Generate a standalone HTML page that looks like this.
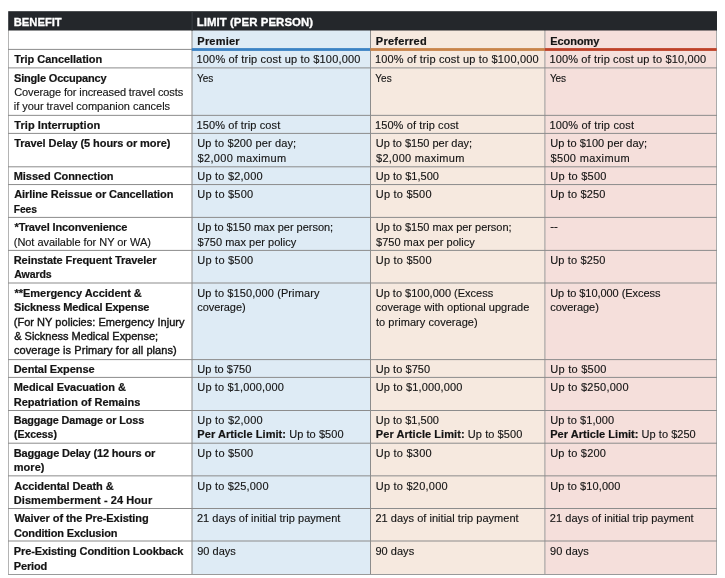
<!DOCTYPE html><html><head><meta charset="utf-8"><title>Benefits</title><style>
html,body{margin:0;padding:0;background:#fff}
body{width:725px;height:578px;position:relative;overflow:hidden;font-family:"Liberation Sans",sans-serif;color:#141414;font-size:11.0px;line-height:14.0px}
div{position:absolute;box-sizing:border-box;transform-origin:0 0}
.l{white-space:nowrap;height:14.0px;-webkit-text-stroke:0.14px #141414}
b{font-weight:bold;-webkit-text-stroke:0.2px #141414}
.m{-webkit-text-stroke:0.38px #141414}
.ht{color:#fff;font-weight:bold;font-size:11.4px;line-height:16px;height:16px;white-space:nowrap;-webkit-text-stroke:0.3px #fff}

</style></head><body>
<svg width="725" height="578" viewBox="0 0 725 578" style="position:absolute;left:0;top:0">
<rect x="192.0" y="30" width="178.5" height="545.0" fill="#deebf5"/>
<rect x="370.5" y="30" width="174.39999999999998" height="545.0" fill="#f6e9df"/>
<rect x="544.9" y="30" width="171.60000000000002" height="545.0" fill="#f5dfdb"/>
<rect x="8.0" y="30" width="1" height="545.0" fill="#b4b4b4"/>
<rect x="191.5" y="30" width="1" height="545.0" fill="#8e8e8e"/>
<rect x="370.0" y="30" width="1" height="545.0" fill="#8c8c8c"/>
<rect x="544.4" y="30" width="1" height="545.0" fill="#989898"/>
<rect x="716.0" y="30" width="1" height="545.0" fill="#aaa"/>
<rect x="8" y="67.4" width="709" height="1" fill="#8c8c8c"/>
<rect x="8" y="114.85" width="709" height="1" fill="#8c8c8c"/>
<rect x="8" y="132.9" width="709" height="1" fill="#8c8c8c"/>
<rect x="8" y="166.3" width="709" height="1" fill="#8c8c8c"/>
<rect x="8" y="184.05" width="709" height="1" fill="#8c8c8c"/>
<rect x="8" y="216.9" width="709" height="1" fill="#8c8c8c"/>
<rect x="8" y="249.9" width="709" height="1" fill="#8c8c8c"/>
<rect x="8" y="282.5" width="709" height="1" fill="#8c8c8c"/>
<rect x="8" y="359.1" width="709" height="1" fill="#8c8c8c"/>
<rect x="8" y="376.9" width="709" height="1" fill="#8c8c8c"/>
<rect x="8" y="410.0" width="709" height="1" fill="#8c8c8c"/>
<rect x="8" y="442.7" width="709" height="1" fill="#8c8c8c"/>
<rect x="8" y="475.35" width="709" height="1" fill="#8c8c8c"/>
<rect x="8" y="508.0" width="709" height="1" fill="#8c8c8c"/>
<rect x="8" y="540.5" width="709" height="1" fill="#8c8c8c"/>
<rect x="8" y="574.0" width="709" height="1" fill="#9a9a9a"/>
<rect x="8" y="48.9" width="184" height="1" fill="#8c8c8c"/>
<rect x="191.8" y="48.1" width="178.5" height="2.8" fill="#3b82c4"/>
<rect x="370.3" y="48.1" width="174.39999999999998" height="2.8" fill="#c8834a"/>
<rect x="544.6999999999999" y="48.1" width="172.00000000000003" height="2.8" fill="#be4127"/>
<rect x="8.2" y="11.2" width="708.8" height="19.3" fill="#24272b"/>
<rect x="191.6" y="11.6" width="1" height="18.9" fill="#3b3f44"/>
</svg>
<div style="left:0;top:0;width:725px;height:578px;will-change:transform">
<div class="ht" style="left:0;top:14px;letter-spacing:0px;transform:translateX(13.65px) scaleX(0.9867)">BENEFIT</div>
<div class="ht" style="left:0;top:14px;letter-spacing:0.074px;transform:translateX(196.65px) scaleX(1)">LIMIT (PER PERSON)</div>
</div>
<div style="left:0;top:0;width:725px;height:578px;will-change:transform">
<div class="l" style="left:197.35px;top:34px;letter-spacing:0.201px"><b>Premier</b></div>
<div class="l" style="left:375.80px;top:34px;letter-spacing:0.247px"><b>Preferred</b></div>
<div class="l" style="left:550.25px;top:34px;letter-spacing:-0.050px"><b>Economy</b></div>
<div class="l" style="left:14.25px;top:52px;letter-spacing:-0.045px"><b>Trip Cancellation</b></div>
<div class="l" style="left:196.50px;top:52px;letter-spacing:0.177px">100% of trip cost up to $100,000</div>
<div class="l" style="left:374.95px;top:52px;letter-spacing:0.170px">100% of trip cost up to $100,000</div>
<div class="l" style="left:549.40px;top:52px;letter-spacing:0.151px">100% of trip cost up to $10,000</div>
<div class="l" style="left:14.00px;top:71px;letter-spacing:-0.184px"><b>Single Occupancy</b></div>
<div class="l" style="left:14.25px;top:85px;letter-spacing:-0.122px">Coverage for increased travel costs</div>
<div class="l" style="left:13.75px;top:99px;letter-spacing:-0.026px">if your travel companion cancels</div>
<div class="l" style="left:197px;top:71px;letter-spacing:-0.130px;transform:translateX(0.05px) scaleX(0.9125)">Yes</div>
<div class="l" style="left:375px;top:71px;letter-spacing:0.062px;transform:translateX(0.25px) scaleX(0.9065)">Yes</div>
<div class="l" style="left:549px;top:71px;letter-spacing:-0.126px;transform:translateX(0.95px) scaleX(0.9129)">Yes</div>
<div class="l" style="left:14.25px;top:118px;letter-spacing:0.062px"><b>Trip Interruption</b></div>
<div class="l" style="left:196.50px;top:118px;letter-spacing:0.112px">150% of trip cost</div>
<div class="l" style="left:374.95px;top:118px;letter-spacing:0.110px">150% of trip cost</div>
<div class="l" style="left:549.40px;top:118px;letter-spacing:0.172px">100% of trip cost</div>
<div class="l" style="left:14.25px;top:136px;letter-spacing:-0.077px"><b>Travel Delay (5 hours or more)</b></div>
<div class="l" style="left:197.30px;top:136px;letter-spacing:0.124px">Up to $200 per day;</div>
<div class="l" style="left:197.55px;top:151px;letter-spacing:0.322px">$2,000 maximum</div>
<div class="l" style="left:375.75px;top:136px;letter-spacing:-0.017px">Up to $150 per day;</div>
<div class="l" style="left:376.00px;top:151px;letter-spacing:0.304px">$2,000 maximum</div>
<div class="l" style="left:550.20px;top:136px;letter-spacing:0.018px">Up to $100 per day;</div>
<div class="l" style="left:550.45px;top:151px;letter-spacing:0.357px">$500 maximum</div>
<div class="l" style="left:13.75px;top:169px;letter-spacing:-0.063px"><b>Missed Connection</b></div>
<div class="l" style="left:197.30px;top:169px;letter-spacing:0.211px">Up to $2,000</div>
<div class="l" style="left:375.75px;top:169px;letter-spacing:0.022px">Up to $1,500</div>
<div class="l" style="left:550.20px;top:169px;letter-spacing:0.276px">Up to $500</div>
<div class="l" style="left:14.25px;top:187px;letter-spacing:-0.095px"><b>Airline Reissue or Cancellation</b></div>
<div class="l" style="left:13px;top:202px;letter-spacing:-0.095px;transform:translateX(0.75px) scaleX(0.9378)"><b>Fees</b></div>
<div class="l" style="left:197.30px;top:187px;letter-spacing:0.228px">Up to $500</div>
<div class="l" style="left:375.75px;top:187px;letter-spacing:0.219px">Up to $500</div>
<div class="l" style="left:550.20px;top:187px;letter-spacing:0.165px">Up to $250</div>
<div class="l" style="left:14.50px;top:220px;letter-spacing:-0.133px"><b>*Travel Inconvenience</b></div>
<div class="l" style="left:13.75px;top:235px;letter-spacing:-0.038px">(Not available for NY or WA)</div>
<div class="l" style="left:197.30px;top:220px;letter-spacing:-0.020px">Up to $150 max per person;</div>
<div class="l" style="left:197.55px;top:235px;letter-spacing:0.012px">$750 max per policy</div>
<div class="l" style="left:375.75px;top:220px;letter-spacing:-0.020px">Up to $150 max per person;</div>
<div class="l" style="left:376.00px;top:235px;letter-spacing:0.014px">$750 max per policy</div>
<div class="l" style="left:550px;top:219px;letter-spacing:0.066px;transform:translateX(0.20px) scaleX(1.0319)">--</div>
<div class="l" style="left:13.75px;top:253px;letter-spacing:-0.078px"><b>Reinstate Frequent Traveler</b></div>
<div class="l" style="left:14px;top:267px;letter-spacing:-0.110px;transform:translateX(0.25px) scaleX(0.9610)"><b>Awards</b></div>
<div class="l" style="left:197.30px;top:253px;letter-spacing:0.228px">Up to $500</div>
<div class="l" style="left:375.75px;top:253px;letter-spacing:0.219px">Up to $500</div>
<div class="l" style="left:550.20px;top:253px;letter-spacing:0.165px">Up to $250</div>
<div class="l" style="left:14.50px;top:286px;letter-spacing:-0.032px"><b>**Emergency Accident &amp;</b></div>
<div class="l" style="left:14.00px;top:300px;letter-spacing:-0.171px"><b>Sickness Medical Expense</b></div>
<div class="l" style="left:13.75px;top:315px;letter-spacing:0.031px"><span class="m">(For NY policies: Emergency Injury</span></div>
<div class="l" style="left:14.25px;top:329px;letter-spacing:-0.019px"><span class="m">&amp; Sickness Medical Expense;</span></div>
<div class="l" style="left:14.00px;top:343px;letter-spacing:0.078px"><span class="m">coverage is Primary for all plans)</span></div>
<div class="l" style="left:197.30px;top:286px;letter-spacing:0.104px">Up to $150,000 (Primary</div>
<div class="l" style="left:197.30px;top:300px;letter-spacing:-0.077px">coverage)</div>
<div class="l" style="left:375.75px;top:286px;letter-spacing:0.002px">Up to $100,000 (Excess</div>
<div class="l" style="left:375.75px;top:300px;letter-spacing:0.025px">coverage with optional upgrade</div>
<div class="l" style="left:376.00px;top:315px;letter-spacing:0.043px">to primary coverage)</div>
<div class="l" style="left:550.20px;top:286px;letter-spacing:-0.048px">Up to $10,000 (Excess</div>
<div class="l" style="left:550.20px;top:300px;letter-spacing:-0.038px">coverage)</div>
<div class="l" style="left:13.75px;top:362px;letter-spacing:-0.084px"><b>Dental Expense</b></div>
<div class="l" style="left:197.30px;top:362px;letter-spacing:0.027px">Up to $750</div>
<div class="l" style="left:375.75px;top:362px;letter-spacing:0.061px">Up to $750</div>
<div class="l" style="left:550.20px;top:362px;letter-spacing:0.276px">Up to $500</div>
<div class="l" style="left:13.75px;top:380px;letter-spacing:-0.052px"><b>Medical Evacuation &amp;</b></div>
<div class="l" style="left:13.75px;top:395px;letter-spacing:0.001px"><b>Repatriation of Remains</b></div>
<div class="l" style="left:197.30px;top:380px;letter-spacing:0.150px">Up to $1,000,000</div>
<div class="l" style="left:375.75px;top:380px;letter-spacing:0.152px">Up to $1,000,000</div>
<div class="l" style="left:550.20px;top:380px;letter-spacing:0.244px">Up to $250,000</div>
<div class="l" style="left:13px;top:413px;letter-spacing:-0.126px;transform:translateX(0.75px) scaleX(0.9851)"><b>Baggage Damage or Loss</b></div>
<div class="l" style="left:14px;top:427px;letter-spacing:-0.108px;transform:translateX(0.00px) scaleX(0.9650)"><b>(Excess)</b></div>
<div class="l" style="left:197.30px;top:413px;letter-spacing:0.211px">Up to $2,000</div>
<div class="l" style="left:197.35px;top:427px;letter-spacing:0.062px"><b>Per Article Limit:</b> Up to $500</div>
<div class="l" style="left:375.75px;top:413px;letter-spacing:0.022px">Up to $1,500</div>
<div class="l" style="left:375.80px;top:427px;letter-spacing:0.071px"><b>Per Article Limit:</b> Up to $500</div>
<div class="l" style="left:550.20px;top:413px;letter-spacing:0.079px">Up to $1,000</div>
<div class="l" style="left:550.25px;top:427px;letter-spacing:0.034px"><b>Per Article Limit:</b> Up to $250</div>
<div class="l" style="left:13.75px;top:446px;letter-spacing:-0.160px"><b>Baggage Delay (12 hours or</b></div>
<div class="l" style="left:13.75px;top:460px;letter-spacing:0.051px"><b>more)</b></div>
<div class="l" style="left:197.30px;top:446px;letter-spacing:0.228px">Up to $500</div>
<div class="l" style="left:375.75px;top:446px;letter-spacing:0.226px">Up to $300</div>
<div class="l" style="left:550.20px;top:446px;letter-spacing:0.220px">Up to $200</div>
<div class="l" style="left:14.25px;top:479px;letter-spacing:-0.045px"><b>Accidental Death &amp;</b></div>
<div class="l" style="left:13.75px;top:493px;letter-spacing:0.069px"><b>Dismemberment - 24 Hour</b></div>
<div class="l" style="left:197.30px;top:479px;letter-spacing:0.176px">Up to $25,000</div>
<div class="l" style="left:375.75px;top:479px;letter-spacing:0.228px">Up to $20,000</div>
<div class="l" style="left:550.20px;top:479px;letter-spacing:0.094px">Up to $10,000</div>
<div class="l" style="left:14.50px;top:511px;letter-spacing:-0.070px"><b>Waiver of the Pre-Existing</b></div>
<div class="l" style="left:14.00px;top:526px;letter-spacing:-0.161px"><b>Condition Exclusion</b></div>
<div class="l" style="left:196.95px;top:511px;letter-spacing:0.034px">21 days of initial trip payment</div>
<div class="l" style="left:375.40px;top:511px;letter-spacing:0.025px">21 days of initial trip payment</div>
<div class="l" style="left:549.85px;top:511px;letter-spacing:0.044px">21 days of initial trip payment</div>
<div class="l" style="left:13.75px;top:544px;letter-spacing:-0.110px"><b>Pre-Existing Condition Lookback</b></div>
<div class="l" style="left:13.75px;top:559px;letter-spacing:-0.150px"><b>Period</b></div>
<div class="l" style="left:197.20px;top:544px;letter-spacing:0.008px">90 days</div>
<div class="l" style="left:375.40px;top:544px;letter-spacing:0.040px">90 days</div>
<div class="l" style="left:550.10px;top:544px;letter-spacing:0.042px">90 days</div>
</div>
</body></html>
